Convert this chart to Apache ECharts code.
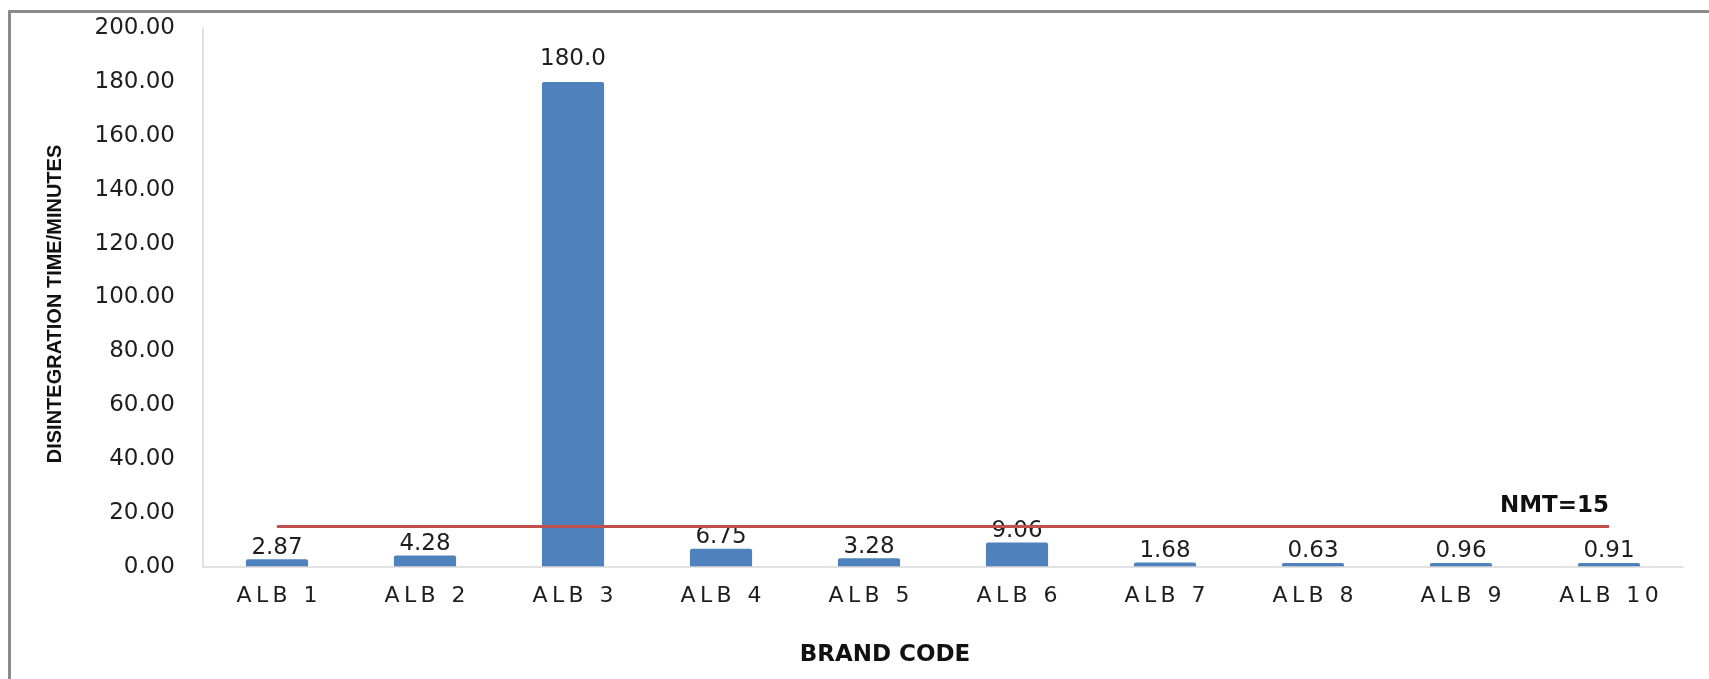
<!DOCTYPE html>
<html>
<head>
<meta charset="utf-8">
<title>Disintegration time by brand</title>
<script src="https://cdn.jsdelivr.net/npm/echarts@6/dist/echarts.min.js"></script>
<style>
  html, body { margin: 0; padding: 0; background: #ffffff; }
  #chart { width: 1709px; height: 679px; }
</style>
</head>
<body>
<div id="chart"></div>
<script>
// Brand codes on the x axis
const brands = ['ALB 1', 'ALB 2', 'ALB 3', 'ALB 4', 'ALB 5', 'ALB 6', 'ALB 7', 'ALB 8', 'ALB 9', 'ALB 10'];
// Measured disintegration time (minutes) per brand
const disintegrationTimes = [2.87, 4.28, 180.0, 6.75, 3.28, 9.06, 1.68, 0.63, 0.96, 0.91];
// Pharmacopoeial limit: not more than 15 minutes
const nmtLimit = [15, 15, 15, 15, 15, 15, 15, 15, 15, 15];
const nmtText = 'NMT=15';
// Y axis range
const yMin = 0, yMax = 200, yStep = 20;

const TEXT = '#1e1e1e';
const THIN = '\u2009';

const chart = echarts.init(document.getElementById('chart'), null, { renderer: 'canvas' });

chart.setOption({
  backgroundColor: '#ffffff',
  animation: false,
  grid: { left: 203, right: 26, top: 28, bottom: 112, containLabel: false },
  xAxis: {
    type: 'category',
    data: brands,
    z: 5,
    axisLine: { lineStyle: { color: '#d9d9d9', width: 1.5 } },
    axisTick: { show: false },
    axisLabel: {
      margin: 18,
      color: TEXT,
      fontFamily: 'DejaVu Sans',
      fontSize: 22,
      // spaced-out lettering for the brand codes
      formatter: v => v.split('').join(THIN)
    },
    splitLine: { show: false }
  },
  yAxis: {
    type: 'value',
    min: yMin,
    max: yMax,
    interval: yStep,
    axisLine: { show: true, lineStyle: { color: '#d9d9d9', width: 1.5 } },
    axisTick: { show: false },
    splitLine: { show: false },
    axisLabel: {
      margin: 28,
      color: TEXT,
      fontFamily: 'DejaVu Sans',
      fontSize: 23,
      formatter: v => v.toFixed(2)
    }
  },
  series: [
    {
      name: 'Disintegration time',
      type: 'bar',
      data: disintegrationTimes.map(v => ({
        value: v,
        label: { distance: v > 100 ? 11 : 0 }
      })),
      barCategoryGap: '58%',
      barMinHeight: 4,
      itemStyle: { color: '#4f81bd', borderRadius: [2, 2, 0, 0] },
      label: {
        show: true,
        position: 'top',
        color: TEXT,
        fontFamily: 'DejaVu Sans',
        fontSize: 23,
        formatter: p => (p.value >= 100 ? p.value.toFixed(1) : p.value.toFixed(2))
      },
      z: 2
    },
    {
      name: 'NMT',
      type: 'line',
      data: nmtLimit.map((v, i) => i === nmtLimit.length - 1
        ? {
            value: v,
            label: {
              show: true,
              position: 'top',
              align: 'right',
              distance: 9,
              formatter: nmtText,
              color: '#111111',
              fontFamily: 'DejaVu Sans',
              fontWeight: 'bold',
              fontSize: 23
            }
          }
        : v),
      showSymbol: true,
      symbol: 'circle',
      symbolSize: 1,
      itemStyle: { color: '#c0504d' },
      label: { show: false },
      lineStyle: { color: '#c0504d', width: 3 },
      z: 4
    }
  ],
  graphic: [
    {
      // chart frame
      type: 'rect',
      shape: { x: 9.5, y: 11.5, width: 2400, height: 1200 },
      style: { fill: 'none', stroke: '#8a8a8a', lineWidth: 3 },
      silent: true,
      z: 10
    },
    {
      type: 'text',
      x: 55,
      y: 304,
      rotation: Math.PI / 2,
      style: {
        text: 'DISINTEGRATION TIME/MINUTES',
        fill: '#111111',
        font: 'bold 20px "Liberation Sans"',
        textAlign: 'center',
        textVerticalAlign: 'middle'
      },
      z: 10
    },
    {
      type: 'text',
      x: 885,
      y: 655,
      style: {
        text: 'BRAND CODE',
        fill: '#111111',
        font: 'bold 23px "DejaVu Sans"',
        textAlign: 'center',
        textVerticalAlign: 'middle'
      },
      z: 10
    }
  ]
});
</script>
</body>
</html>
